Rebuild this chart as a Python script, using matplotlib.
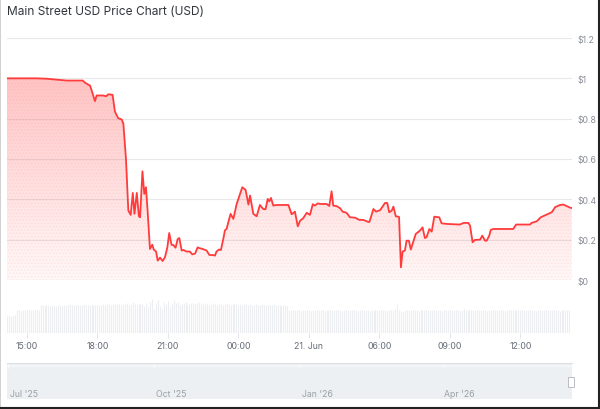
import numpy as np
import matplotlib
matplotlib.use("Agg")
import matplotlib.pyplot as plt
import matplotlib.dates as mdates
from matplotlib.patches import Rectangle
import datetime as dt

plt.rcParams['font.family'] = ['Inter', 'DejaVu Sans']

# ---- data: hours since 20 Jun 00:00 and price in USD ----
hours = [14.14, 15.42, 15.85, 16.70, 17.38, 17.48, 17.69, 17.76, 17.90, 17.97,
         18.26, 18.37, 18.47, 18.65, 18.75, 18.89, 19.04, 19.11, 19.22, 19.32,
         19.42, 19.51, 19.58, 19.68, 19.77, 19.82, 19.92, 20.00, 20.07, 20.14,
         20.24, 20.34, 20.40, 20.50, 20.57, 20.67, 20.78, 20.88, 20.98, 21.06,
         21.16, 21.23, 21.33, 21.42, 21.49, 21.59, 21.66, 21.80, 21.94, 22.04,
         22.16, 22.27, 22.37, 22.48, 22.65, 22.77, 22.91, 23.01, 23.07, 23.18,
         23.26, 23.36, 23.43, 23.50, 23.67, 23.79, 23.93, 24.17, 24.31, 24.43,
         24.50, 24.64, 24.78, 24.92, 25.06, 25.16, 25.25, 25.32, 25.39, 25.49,
         25.63, 26.13, 26.27, 26.41, 26.53, 26.63, 26.76, 26.91, 27.05, 27.17,
         27.26, 27.38, 27.48, 27.76, 27.87, 27.97, 28.04, 28.19, 28.33, 28.44,
         28.61, 28.75, 28.97, 29.15, 29.32, 29.53, 29.58, 29.75, 29.86, 30.03,
         30.14, 30.24, 30.34, 30.42, 30.53, 30.60, 30.70, 30.84, 30.92, 30.99,
         31.09, 31.16, 31.26, 31.34, 31.44, 31.55, 31.73, 31.84, 31.94, 32.01,
         32.13, 32.23, 32.34, 32.55, 32.65, 32.87, 33.43, 33.58, 33.79, 33.86,
         33.97, 34.07, 34.29, 34.38, 34.50, 34.57, 34.68, 34.74, 34.85, 35.70,
         35.82, 36.41, 36.48, 36.70, 36.87, 37.12, 37.34, 37.48, 37.69, 37.83,
         37.97, 38.11, 38.19]
price = [1.000, 1.000, 0.998, 0.989, 0.989, 0.978, 0.964, 0.940, 0.887, 0.915,
         0.915, 0.911, 0.921, 0.918, 0.835, 0.802, 0.796, 0.774, 0.600, 0.344,
         0.323, 0.432, 0.328, 0.432, 0.316, 0.311, 0.539, 0.427, 0.460, 0.344,
         0.154, 0.175, 0.151, 0.141, 0.096, 0.111, 0.094, 0.113, 0.162, 0.233,
         0.174, 0.174, 0.160, 0.203, 0.208, 0.146, 0.149, 0.141, 0.141, 0.127,
         0.131, 0.162, 0.157, 0.154, 0.146, 0.124, 0.124, 0.121, 0.141, 0.151,
         0.149, 0.203, 0.246, 0.253, 0.328, 0.303, 0.377, 0.460, 0.447, 0.374,
         0.419, 0.328, 0.316, 0.372, 0.352, 0.351, 0.402, 0.390, 0.407, 0.369,
         0.372, 0.372, 0.326, 0.339, 0.266, 0.294, 0.306, 0.333, 0.323, 0.376,
         0.369, 0.380, 0.377, 0.377, 0.367, 0.440, 0.369, 0.366, 0.356, 0.339,
         0.333, 0.311, 0.309, 0.298, 0.298, 0.288, 0.288, 0.352, 0.339, 0.346,
         0.364, 0.382, 0.382, 0.336, 0.344, 0.364, 0.316, 0.313, 0.063, 0.141,
         0.146, 0.195, 0.195, 0.151, 0.187, 0.228, 0.245, 0.261, 0.208, 0.212,
         0.253, 0.240, 0.314, 0.311, 0.281, 0.278, 0.275, 0.283, 0.283, 0.270,
         0.187, 0.199, 0.200, 0.220, 0.195, 0.195, 0.220, 0.248, 0.253, 0.253,
         0.275, 0.275, 0.283, 0.291, 0.311, 0.324, 0.336, 0.361, 0.372, 0.374,
         0.367, 0.359, 0.357]

# 5-minute volume bars (relative units)
volume_start = 14.17
volume = [17, 17, 17, 17, 18, 23, 23, 22, 23, 23, 23, 24, 23, 23, 23, 24, 23, 28, 28, 27, 28, 28, 27, 28,
          27, 27, 28, 28, 27, 28, 28, 28, 29, 28, 28, 28, 28, 28, 28, 29, 28, 28, 28, 28, 28, 28, 28, 28,
          28, 29, 28, 30, 29, 28, 29, 30, 29, 29, 28, 29, 29, 30, 28, 29, 31, 29, 28, 30, 29, 29, 27, 30,
          26, 31, 34, 24, 30, 33, 27, 25, 31, 29, 32, 26, 29, 33, 30, 31, 28, 29, 30, 31, 28, 29, 30, 30,
          29, 30, 31, 29, 30, 29, 30, 28, 29, 30, 29, 28, 30, 29, 28, 29, 30, 29, 28, 29, 29, 29, 28, 29,
          28, 29, 29, 28, 29, 28, 28, 29, 28, 28, 29, 28, 28, 28, 28, 28, 29, 28, 28, 28, 27, 28, 28, 27,
          23, 23, 23, 23, 23, 23, 22, 23, 23, 23, 23, 22, 23, 23, 23, 23, 23, 23, 22, 23, 23, 23, 23, 23,
          23, 23, 23, 22, 23, 23, 23, 23, 23, 23, 23, 22, 23, 23, 23, 23, 23, 22, 23, 23, 23, 23, 23, 23,
          23, 23, 22, 23, 23, 23, 24, 29, 23, 22, 21, 23, 23, 23, 23, 23, 23, 23, 22, 23, 23, 23, 23, 23,
          23, 23, 23, 23, 23, 23, 22, 23, 23, 23, 23, 23, 23, 23, 23, 22, 23, 24, 23, 23, 23, 23, 23, 23,
          23, 23, 23, 23, 23, 22, 23, 23, 23, 23, 23, 23, 23, 23, 22, 23, 23, 23, 23, 23, 23, 23, 23, 23,
          23, 23, 23, 23, 23, 23, 22, 23, 23, 23, 23, 23, 23, 23, 23, 23, 23, 23, 22, 23, 23, 23, 23, 23]

x_ticks = [15, 18, 21, 24, 27, 30, 33, 36]
x_labels = ["15:00", "18:00", "21:00", "00:00", "21. Jun", "06:00", "09:00", "12:00"]
y_ticks = [0, 0.2, 0.4, 0.6, 0.8, 1.0, 1.2]
y_labels = ["$0", "$0.2", "$0.4", "$0.6", "$0.8", "$1", "$1.2"]
nav_dates = [dt.datetime(2025, 7, 1), dt.datetime(2025, 10, 1), dt.datetime(2026, 1, 1), dt.datetime(2026, 4, 1)]
nav_labels = ["Jul '25", "Oct '25", "Jan '26", "Apr '26"]

title = "Main Street USD Price Chart (USD)"

# ---- figure ----
W, H = 600, 410
fig = plt.figure(figsize=(W / 100, H / 100), dpi=100)
fig.patch.set_facecolor('white')

def fx(px):
    return px / W

def fy(py):
    return 1 - py / H

XMIN, XMAX = 14.157, 38.2
L, R = 7, 572

# main price axes
ax = fig.add_axes([fx(L), fy(281), fx(R - L), (281 - 39) / H])
ax.set_xlim(XMIN, XMAX)
ax.set_ylim(0, 1.2)
for s in ax.spines.values():
    s.set_visible(False)
ax.set_xticks([])
ax.set_yticks(y_ticks)
ax.set_yticklabels(y_labels)
ax.yaxis.tick_right()
ax.tick_params(axis='y', length=0, pad=4, labelsize=6.3, labelcolor='#8a8f98')
for yt in y_ticks:
    ax.axhline(yt, color='#e9e9ec', lw=0.8, zorder=0)

t = np.array(hours)
p = np.array(price)

# gradient fill under the line
poly = ax.fill_between(t, p, 0, color='none', lw=0)
g = np.linspace(0, 1, 256)
rgba = np.zeros((256, 1, 4))
rgba[:, 0, 0] = 1.0
rgba[:, 0, 1] = 0.23
rgba[:, 0, 2] = 0.23
rgba[:, 0, 3] = 0.03 + 0.27 * g
im = ax.imshow(rgba, origin='lower', aspect='auto',
               extent=[XMIN, XMAX, 0, 1.0], zorder=1, interpolation='bilinear')
im.set_clip_path(poly.get_paths()[0], transform=ax.transData)
hat = ax.fill_between(t, p, 0, facecolor='none', edgecolor=(1, 0.45, 0.45, 0.10),
                      hatch='.....', lw=0, zorder=1.5)

ax.plot(t, p, color='#ff3b3b', lw=1.3, zorder=3, solid_joinstyle='round')

# volume axes
axv = fig.add_axes([fx(L), fy(334), fx(R - L), 36 / H])
axv.set_xlim(XMIN, XMAX)
axv.set_ylim(0, 36)
for s in axv.spines.values():
    s.set_visible(False)
vt = volume_start + np.arange(len(volume)) * (5 / 60)
axv.vlines(vt, 0, volume, colors='#eceef1', lw=0.75)
axv.axhline(0, color='#eceef1', lw=0.8)
axv.set_yticks([])
axv.set_xticks(x_ticks)
axv.set_xticklabels(x_labels)
axv.tick_params(axis='x', length=3.5, width=0.6, color='#dcdfe4', pad=2.5,
                labelsize=6.3, labelcolor='#666c76')

# navigator
axn = fig.add_axes([fx(L), fy(400), fx(R - L), 36 / H])
nav_lo = mdates.date2num(dt.datetime(2025, 6, 30, 12))
nav_hi = mdates.date2num(dt.datetime(2026, 6, 21, 14, 10))
axn.set_xlim(nav_lo, nav_hi)
axn.set_ylim(0, 1)
axn.set_facecolor('#edf0f3')
for s in axn.spines.values():
    s.set_visible(False)
axn.spines['top'].set_visible(True)
axn.spines['top'].set_color('#dde1e6')
axn.spines['top'].set_linewidth(0.8)
axn.axhline(0.93, color='#f6f7f9', lw=1.2)
axn.set_xticks([])
axn.set_yticks([])
for d, lab in zip(nav_dates, nav_labels):
    xn = mdates.date2num(d)
    axn.axvline(xn, ymin=0.85, ymax=1.0, color='#f8f9fa', lw=0.8)
    axn.annotate(lab, xy=(xn, 0), xycoords=('data', 'axes fraction'),
                 xytext=(1.3, 0.8), textcoords='offset points',
                 fontsize=6.3, color='#9aa0a8', ha='left', va='bottom')

# navigator handle
fig.patches.append(Rectangle((fx(567.5), fy(387.5)), 6 / W, 10 / H, transform=fig.transFigure,
                             facecolor='white', edgecolor='#b9bec6', lw=0.7, zorder=5))

# title
fig.text(fx(7), fy(12.3), title, fontsize=8.6, color='#33363d', ha='left', va='center')

# frame
fig.patches.append(Rectangle((0, 0), 1, 1, transform=fig.transFigure, fill=False,
                             edgecolor='#c8c8c8', lw=1.2, zorder=10))
fig.add_artist(plt.Line2D([fx(599), fx(599)], [0, 1], transform=fig.transFigure,
                          color='#222222', lw=1.5, zorder=11))
fig.add_artist(plt.Line2D([0, 1], [fy(409), fy(409)], transform=fig.transFigure,
                          color='#222222', lw=1.5, zorder=11))

fig.savefig('out.png', dpi=100, facecolor='white')
